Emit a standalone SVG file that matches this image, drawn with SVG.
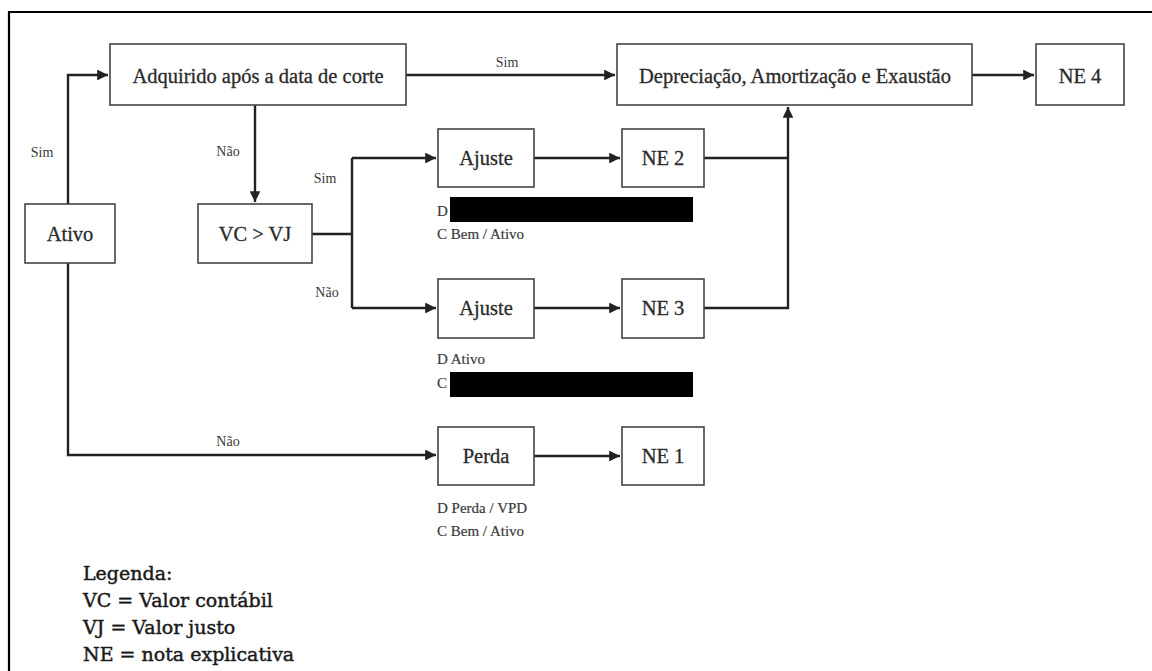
<svg xmlns="http://www.w3.org/2000/svg" width="1152" height="671" viewBox="0 0 1152 671">
<style>
.box{fill:#fff;stroke:#444;stroke-width:1.6}
.t{font-family:"Liberation Serif",serif;font-size:20.5px;fill:#2a2a2a;stroke:#2a2a2a;stroke-width:0.3;text-anchor:middle}
.lbl{font-family:"Liberation Serif",serif;font-size:14px;fill:#3a3a3a;text-anchor:middle}
.note{font-family:"Liberation Serif",serif;font-size:15px;fill:#3a3a3a;stroke:#3a3a3a;stroke-width:0.2}
.c{fill:none;stroke:#222;stroke-width:2.4}
.leg{font-family:"DejaVu Serif","Liberation Serif",serif;font-size:19px;fill:#1a1a1a;stroke:#1a1a1a;stroke-width:0.45}
</style>
<defs>
<marker id="ah" viewBox="0 0 10 10" refX="10" refY="5" markerWidth="5" markerHeight="4.5" markerUnits="strokeWidth" orient="auto">
<path d="M0,0 L10,5 L0,10 z" fill="#222"/>
</marker>
</defs>
<rect width="1152" height="671" fill="#fff"/>
<path d="M9,671 V12 H1152" fill="none" stroke="#000" stroke-width="2.2"/>
<g id="connectors">
<path class="c" d="M68,204 V75 H108" marker-end="url(#ah)"/>
<path class="c" d="M255,105 V202" marker-end="url(#ah)"/>
<path class="c" d="M406,75 H615" marker-end="url(#ah)"/>
<path class="c" d="M972,75 H1034" marker-end="url(#ah)"/>
<path class="c" d="M312,234 H352"/>
<path class="c" d="M352,158 V308"/>
<path class="c" d="M352,158 H436" marker-end="url(#ah)"/>
<path class="c" d="M352,308 H436" marker-end="url(#ah)"/>
<path class="c" d="M534,158 H620" marker-end="url(#ah)"/>
<path class="c" d="M534,308 H620" marker-end="url(#ah)"/>
<path class="c" d="M704,158 H788"/>
<path class="c" d="M704,308 H788 V107" marker-end="url(#ah)"/>
<path class="c" d="M68,263 V455 H436" marker-end="url(#ah)"/>
<path class="c" d="M534,456 H620" marker-end="url(#ah)"/>
<text class="lbl" x="42" y="157">Sim</text>
<text class="lbl" x="228" y="156">Não</text>
<text class="lbl" x="507" y="67">Sim</text>
<text class="lbl" x="325" y="183">Sim</text>
<text class="lbl" x="327" y="297">Não</text>
<text class="lbl" x="228" y="446">Não</text>
</g>
<g id="adquirido"><rect class="box" x="110" y="44" width="296" height="61"/><text class="t" x="258" y="83">Adquirido após a data de corte</text></g>
<g id="ativo"><rect class="box" x="25" y="204" width="90" height="59"/><text class="t" x="70" y="241">Ativo</text></g>
<g id="vcvj"><rect class="box" x="198" y="204" width="114" height="59"/><text class="t" x="255" y="241">VC &gt; VJ</text></g>
<g id="depreciacao"><rect class="box" x="617" y="44" width="355" height="61"/><text class="t" x="795" y="83">Depreciação, Amortização e Exaustão</text></g>
<g id="ne4"><rect class="box" x="1036" y="44" width="88" height="61"/><text class="t" x="1080" y="83">NE 4</text></g>
<g id="ajuste1"><rect class="box" x="438" y="129" width="96" height="58"/><text class="t" x="486" y="165">Ajuste</text></g>
<g id="ne2"><rect class="box" x="622" y="129" width="82" height="58"/><text class="t" x="663" y="165">NE 2</text></g>
<g id="ajuste2"><rect class="box" x="438" y="279" width="96" height="59"/><text class="t" x="486" y="315">Ajuste</text></g>
<g id="ne3"><rect class="box" x="622" y="279" width="82" height="59"/><text class="t" x="663" y="315">NE 3</text></g>
<g id="perda"><rect class="box" x="438" y="427" width="96" height="58"/><text class="t" x="486" y="463">Perda</text></g>
<g id="ne1"><rect class="box" x="622" y="427" width="82" height="58"/><text class="t" x="663" y="463">NE 1</text></g>
<g id="notes">
<text class="note" x="437" y="216">D</text>
<rect x="450" y="197" width="243" height="25" fill="#000"/>
<text class="note" x="437" y="239">C Bem / Ativo</text>
<text class="note" x="437" y="364">D Ativo</text>
<text class="note" x="437" y="388">C</text>
<rect x="450" y="372" width="243" height="25" fill="#000"/>
<text class="note" x="437" y="513">D Perda / VPD</text>
<text class="note" x="437" y="536">C Bem / Ativo</text>
</g>
<g id="legenda">
<text class="leg" x="83" y="580">Legenda:</text>
<text class="leg" x="83" y="607">VC = Valor contábil</text>
<text class="leg" x="83" y="634">VJ = Valor justo</text>
<text class="leg" x="83" y="661">NE = nota explicativa</text>
</g>
</svg>
